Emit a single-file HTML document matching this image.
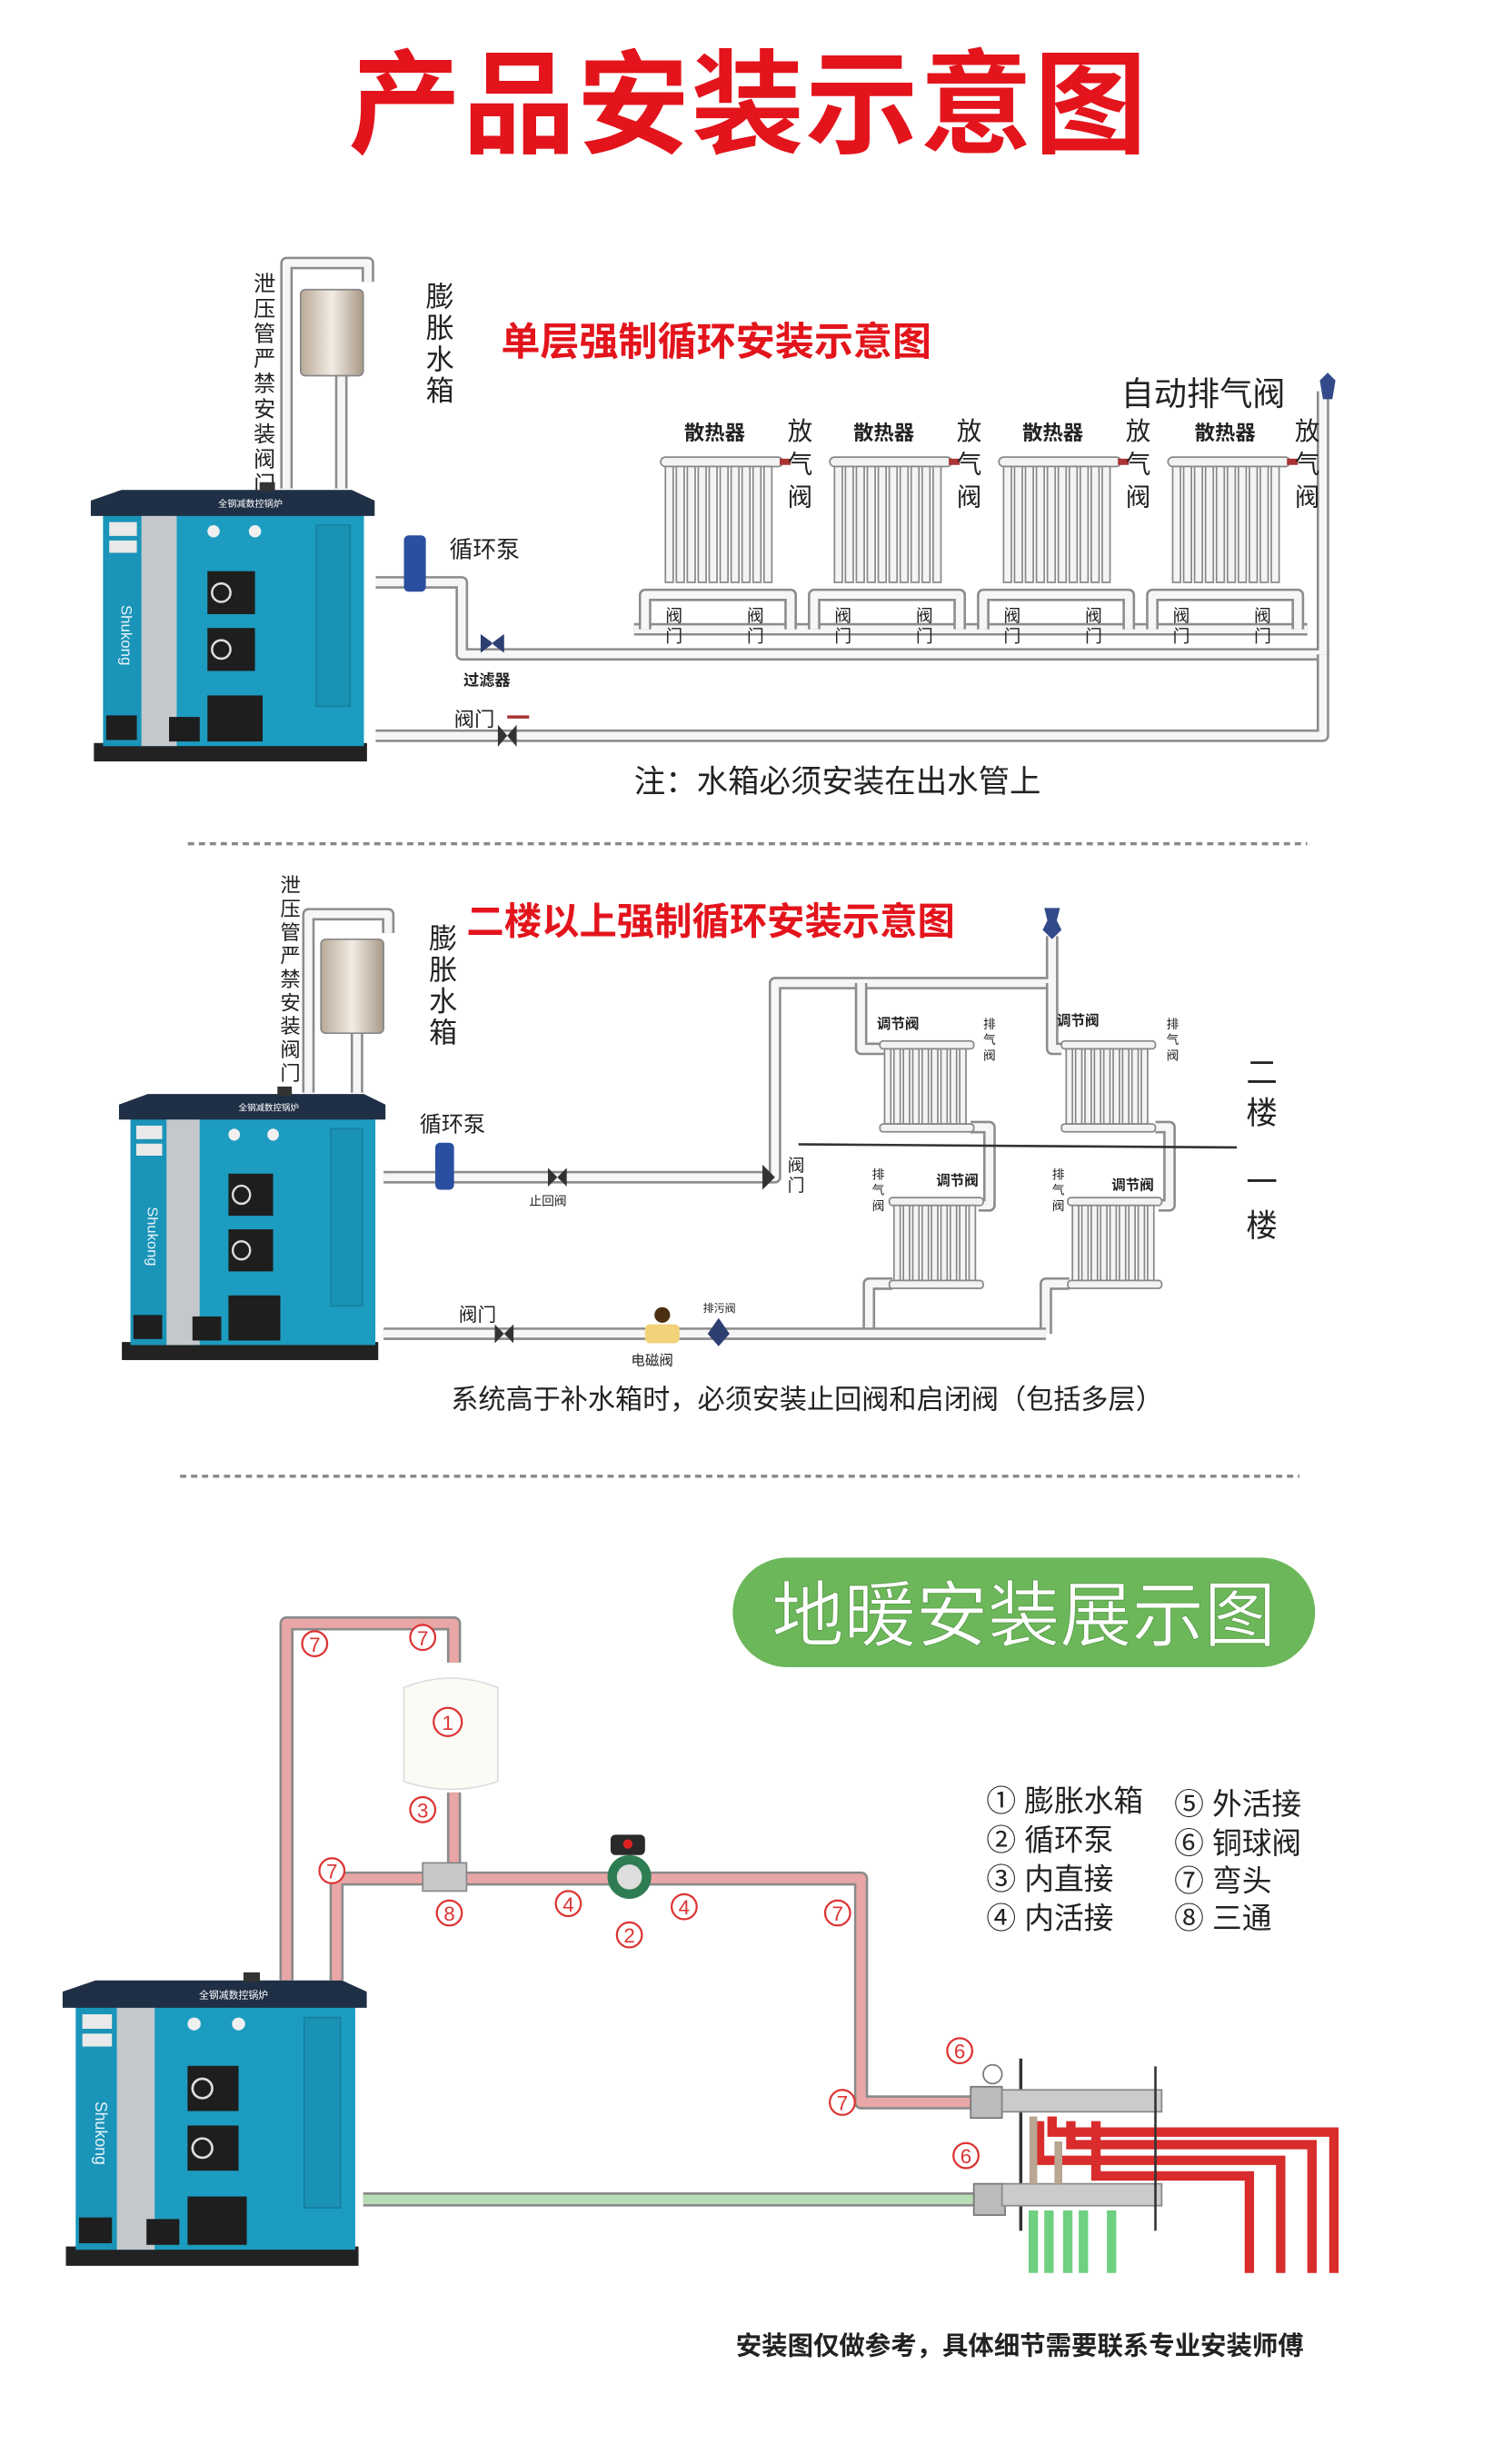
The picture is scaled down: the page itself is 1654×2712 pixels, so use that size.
<!DOCTYPE html>
<html><head><meta charset="utf-8">
<style>
html,body{margin:0;padding:0;background:#fff;}
svg{display:block;}
text{font-family:"Liberation Sans","Noto Sans CJK SC",sans-serif;}
.po{fill:none;stroke:#8c8c8c;stroke-width:8;stroke-linejoin:round;}
.pi{fill:none;stroke:#f6f6f6;stroke-width:5;stroke-linejoin:round;}
.ro{fill:none;stroke:#8a8a8a;stroke-width:9;stroke-linejoin:round;}
.ri{fill:none;stroke:#e9a6a6;stroke-width:6;stroke-linejoin:round;}
.c{fill:#fff;stroke:#d33;stroke-width:1.3;}
.cn{fill:#d33;font-size:13px;text-anchor:middle;}
.lg{font-size:19px;fill:#222;}
</style></head><body>
<svg width="1654" height="2712" viewBox="0 0 960 1574" preserveAspectRatio="none" xmlns="http://www.w3.org/2000/svg">
<defs>
<linearGradient id="tk" x1="0" x2="1"><stop offset="0" stop-color="#b9aa98"/><stop offset="0.5" stop-color="#f2ece4"/><stop offset="1" stop-color="#a89886"/></linearGradient>
<g id="boiler">
  <rect x="2" y="168" width="178" height="12" fill="#222"/>
  <rect x="8" y="16" width="170" height="154" fill="#1c9cc0"/>
  <rect x="8" y="16" width="25" height="154" fill="#1a94b8"/>
  <rect x="33" y="18" width="23" height="152" fill="#c4c8cc"/>
  <rect x="147" y="26" width="22" height="118" fill="#1a92b5" stroke="#16819f" stroke-width="1"/>
  <polygon points="20,3 170,3 185,10 185,20 0,20 0,10" fill="#1f2f45"/>
  <rect x="110" y="-2" width="10" height="6" fill="#333"/>
  <rect x="76" y="56" width="31" height="28" fill="#1e1e1e"/>
  <circle cx="85" cy="70" r="6" fill="none" stroke="#ddd" stroke-width="1.5"/>
  <rect x="76" y="93" width="31" height="28" fill="#1e1e1e"/>
  <circle cx="85" cy="107" r="6" fill="none" stroke="#ddd" stroke-width="1.5"/>
  <rect x="76" y="137" width="36" height="30" fill="#1e1e1e"/>
  <rect x="10" y="150" width="20" height="16" fill="#1e1e1e"/>
  <rect x="51" y="151" width="20" height="16" fill="#1e1e1e"/>
  <circle cx="80" cy="30" r="4" fill="#f0f0f0"/><circle cx="107" cy="30" r="4" fill="#f0f0f0"/>
  <rect x="12" y="24" width="18" height="9" fill="#e9e9e9"/>
  <rect x="12" y="36" width="18" height="8" fill="#e9e9e9"/>
  <text x="20" y="78" font-size="10" fill="#e8f4f8" transform="rotate(90 20 78)">Shukong</text>
  <text x="83" y="14" font-size="6" fill="#fff">全钢减数控锅炉</text>
</g>
<g id="rad">
  <rect x="0" y="0" width="78" height="6" rx="3" fill="#f2f2f2" stroke="#888"/>
  <g stroke="#888" stroke-width="1" fill="#f4f4f4">
    <rect x="3" y="6" width="5" height="74"/><rect x="10" y="6" width="5" height="74"/><rect x="17" y="6" width="5" height="74"/>
    <rect x="24" y="6" width="5" height="74"/><rect x="31" y="6" width="5" height="74"/><rect x="38" y="6" width="5" height="74"/>
    <rect x="45" y="6" width="5" height="74"/><rect x="52" y="6" width="5" height="74"/><rect x="59" y="6" width="5" height="74"/>
    <rect x="66" y="6" width="5" height="74"/>
  </g>
  <rect x="76" y="1" width="7" height="4" fill="#a33"/>
</g>
<g id="rad2">
  <rect x="0" y="0" width="60" height="5" rx="2" fill="#f2f2f2" stroke="#888"/>
  <g stroke="#888" stroke-width="1" fill="#f4f4f4">
    <rect x="3" y="5" width="4" height="48"/><rect x="9" y="5" width="4" height="48"/><rect x="15" y="5" width="4" height="48"/>
    <rect x="21" y="5" width="4" height="48"/><rect x="27" y="5" width="4" height="48"/><rect x="33" y="5" width="4" height="48"/>
    <rect x="39" y="5" width="4" height="48"/><rect x="45" y="5" width="4" height="48"/><rect x="51" y="5" width="4" height="48"/>
  </g>
  <rect x="0" y="53" width="60" height="5" rx="2" fill="#f2f2f2" stroke="#888"/>
</g>
</defs>

<text x="478" y="92" font-size="72" font-weight="bold" fill="#e3141c" text-anchor="middle" letter-spacing="1">产品安装示意图</text>

<!-- SECTION 1 -->
<path class="po" d="M183 312 V168 H235 V180"/><path class="pi" d="M183 312 V168 H235 V180"/>
<path class="po" d="M218 240 V312"/><path class="pi" d="M218 240 V312"/>
<rect x="192" y="185" width="40" height="55" rx="3" fill="url(#tk)" stroke="#888"/>
<text font-size="14" fill="#222"><tspan x="162" y="186">泄</tspan><tspan x="162" y="202">压</tspan><tspan x="162" y="218">管</tspan><tspan x="162" y="234">严</tspan><tspan x="162" y="250">禁</tspan><tspan x="162" y="266">安</tspan><tspan x="162" y="282">装</tspan><tspan x="162" y="298">阀</tspan><tspan x="162" y="314">门</tspan></text>
<text font-size="18" fill="#222"><tspan x="272" y="196">膨</tspan><tspan x="272" y="216">胀</tspan><tspan x="272" y="236">水</tspan><tspan x="272" y="256">箱</tspan></text>
<text x="320" y="227" font-size="25" font-weight="bold" fill="#e3141c">单层强制循环安装示意图</text>
<text x="716" y="259" font-size="21" fill="#222">自动排气阀</text>
<path class="po" d="M240 372 H295 V418 H845 V250"/><path class="pi" d="M240 372 H295 V418 H845 V250"/>
<path class="po" d="M240 470 H845 V418"/><path class="pi" d="M240 470 H845 V418"/>
<path class="po" d="M405 402 H835"/><path class="pi" d="M405 402 H835"/>
<path d="M848 238 l5 5 -2 12 h-6 l-2 -12z" fill="#334a8a"/>
<rect x="258" y="342" width="14" height="36" rx="3" fill="#2b4fa0"/>
<text x="287" y="356" font-size="15" fill="#222">循环泵</text>
<path d="M307 405 l8 6 -8 6z M322 405 l-8 6 8 6z" fill="#2c3f70"/>
<text x="296" y="438" font-size="10" font-weight="bold" fill="#222">过滤器</text>
<text x="290" y="464" font-size="13" fill="#222">阀门</text>
<path d="M318 463 l6 7 -6 7z M330 463 l-6 7 6 7z" fill="#333"/>
<line x1="324" y1="458" x2="338" y2="458" stroke="#a33" stroke-width="2"/>
<use href="#rad" x="422" y="292"/><use href="#rad" x="530" y="292"/><use href="#rad" x="638" y="292"/><use href="#rad" x="746" y="292"/>
<path class="po" d="M412 402 V380 H505 V402 M520 402 V380 H613 V402 M628 402 V380 H721 V402 M736 402 V380 H829 V402"/>
<path class="pi" d="M412 402 V380 H505 V402 M520 402 V380 H613 V402 M628 402 V380 H721 V402 M736 402 V380 H829 V402"/>
<g font-size="11" fill="#222">
<text x="425" y="397">阀</text><text x="425" y="410">门</text><text x="477" y="397">阀</text><text x="477" y="410">门</text>
<text x="533" y="397">阀</text><text x="533" y="410">门</text><text x="585" y="397">阀</text><text x="585" y="410">门</text>
<text x="641" y="397">阀</text><text x="641" y="410">门</text><text x="693" y="397">阀</text><text x="693" y="410">门</text>
<text x="749" y="397">阀</text><text x="749" y="410">门</text><text x="801" y="397">阀</text><text x="801" y="410">门</text>
</g>
<g fill="#222" font-size="13" font-weight="bold">
<text x="437" y="281">散热器</text><text x="545" y="281">散热器</text><text x="653" y="281">散热器</text><text x="763" y="281">散热器</text>
</g>
<g fill="#222" font-size="16">
<text x="503" y="281">放</text><text x="503" y="302">气</text><text x="503" y="323">阀</text>
<text x="611" y="281">放</text><text x="611" y="302">气</text><text x="611" y="323">阀</text>
<text x="719" y="281">放</text><text x="719" y="302">气</text><text x="719" y="323">阀</text>
<text x="827" y="281">放</text><text x="827" y="302">气</text><text x="827" y="323">阀</text>
</g>
<use href="#boiler" transform="translate(58 310) scale(0.98)"/>
<text x="405" y="506" font-size="20" fill="#222">注：水箱必须安装在出水管上</text>
<line x1="120" y1="539" x2="835" y2="539" stroke="#888" stroke-width="2" stroke-dasharray="4 3"/>

<!-- SECTION 2 -->
<path class="po" d="M197 698 V584 H248 V596"/><path class="pi" d="M197 698 V584 H248 V596"/>
<path class="po" d="M228 660 V698"/><path class="pi" d="M228 660 V698"/>
<rect x="205" y="600" width="40" height="60" rx="3" fill="url(#tk)" stroke="#888"/>
<text font-size="13" fill="#222"><tspan x="179" y="570">泄</tspan><tspan x="179" y="585">压</tspan><tspan x="179" y="600">管</tspan><tspan x="179" y="615">严</tspan><tspan x="179" y="630">禁</tspan><tspan x="179" y="645">安</tspan><tspan x="179" y="660">装</tspan><tspan x="179" y="675">阀</tspan><tspan x="179" y="690">门</tspan></text>
<text font-size="18" fill="#222"><tspan x="274" y="606">膨</tspan><tspan x="274" y="626">胀</tspan><tspan x="274" y="646">水</tspan><tspan x="274" y="666">箱</tspan></text>
<text x="298" y="597" font-size="24" font-weight="bold" fill="#e3141c">二楼以上强制循环安装示意图</text>
<path class="po" d="M245 752 H495 V628 H672 V598"/><path class="pi" d="M245 752 H495 V628 H672 V598"/>
<path d="M667 580 h10 l-2 8 3 6 -6 6 -6 -6 3 -6z" fill="#334a8a"/>
<path class="po" d="M550 628 V670 H565 M672 628 V670 H678"/><path class="pi" d="M550 628 V670 H565 M672 628 V670 H678"/>
<path class="po" d="M620 720 H632 V770 H625 M738 720 H747 V770 H740"/><path class="pi" d="M620 720 H632 V770 H625 M738 720 H747 V770 H740"/>
<path class="po" d="M570 820 H555 V852 M683 820 H668 V852"/><path class="pi" d="M570 820 H555 V852 M683 820 H668 V852"/>
<path class="po" d="M245 852 H668"/><path class="pi" d="M245 852 H668"/>
<use href="#rad2" x="562" y="665"/><use href="#rad2" x="678" y="665"/>
<use href="#rad2" x="568" y="765"/><use href="#rad2" x="682" y="765"/>
<line x1="510" y1="731" x2="790" y2="733" stroke="#333" stroke-width="1.5"/>
<g font-size="9" font-weight="bold" fill="#222">
<text x="560" y="657">调节阀</text><text x="675" y="655">调节阀</text>
<text x="598" y="757">调节阀</text><text x="710" y="760">调节阀</text>
</g>
<g font-size="8" fill="#222">
<text x="628" y="657">排</text><text x="628" y="667">气</text><text x="628" y="677">阀</text>
<text x="745" y="657">排</text><text x="745" y="667">气</text><text x="745" y="677">阀</text>
<text x="557" y="753">排</text><text x="557" y="763">气</text><text x="557" y="773">阀</text>
<text x="672" y="753">排</text><text x="672" y="763">气</text><text x="672" y="773">阀</text>
</g>
<text font-size="20" fill="#222"><tspan x="796" y="692">二</tspan><tspan x="796" y="718">楼</tspan><tspan x="796" y="762">一</tspan><tspan x="796" y="790">楼</tspan></text>
<rect x="278" y="730" width="12" height="30" rx="3" fill="#2b4fa0"/>
<text x="268" y="723" font-size="14" fill="#222">循环泵</text>
<path d="M350 746 l6 6 -6 6z M362 746 l-6 6 6 6z" fill="#333"/>
<text x="338" y="770" font-size="8" fill="#222">止回阀</text>
<path d="M487 744 l8 8 -8 8z" fill="#333"/>
<text x="503" y="748" font-size="11" fill="#222">阀</text><text x="503" y="761" font-size="11" fill="#222">门</text>
<text x="293" y="844" font-size="12" fill="#222">阀门</text>
<path d="M316 846 l6 6 -6 6z M328 846 l-6 6 6 6z" fill="#333"/>
<rect x="412" y="846" width="22" height="12" rx="3" fill="#f2d27a"/><circle cx="423" cy="840" r="5" fill="#4a3010"/>
<text x="403" y="872" font-size="9" fill="#222">电磁阀</text>
<path d="M452 852 l7 -10 7 10 -7 8z" fill="#2c3f70"/>
<text x="449" y="838" font-size="7" fill="#222">排污阀</text>
<use href="#boiler" transform="translate(76 696) scale(0.92 0.96)"/>
<text x="288" y="900" font-size="17.5" fill="#222">系统高于补水箱时，必须安装止回阀和启闭阀（包括多层）</text>
<line x1="115" y1="943" x2="830" y2="943" stroke="#888" stroke-width="2" stroke-dasharray="4 3"/>

<!-- SECTION 3 -->
<rect x="468" y="995" width="372" height="70" rx="35" fill="#6cb75a"/>
<text x="654" y="1048" font-size="46" fill="#fff" text-anchor="middle" stroke="#5a9c4a" stroke-width="0.5">地暖安装展示图</text>
<path class="ro" d="M183 1265 V1037 H290 V1062"/><path class="ri" d="M183 1265 V1037 H290 V1062"/>
<path class="ro" d="M215 1265 V1200 H550 V1343 H620"/><path class="ri" d="M215 1265 V1200 H550 V1343 H620"/>
<path class="ro" d="M290 1145 V1200"/><path class="ri" d="M290 1145 V1200"/>
<path d="M232 1405 H630" stroke="#8a8a8a" stroke-width="9" fill="none"/><path d="M232 1405 H630" stroke="#b8dcb4" stroke-width="6" fill="none"/>
<path d="M258 1078 q30 -12 60 0 v60 q-30 10 -60 0z" fill="#fbfbf6" stroke="#ddd"/>
<rect x="270" y="1190" width="28" height="18" fill="#c8c8c8" stroke="#888"/>
<circle cx="402" cy="1199" r="14" fill="#2e7d52"/><circle cx="402" cy="1199" r="8" fill="#ddd"/>
<rect x="390" y="1172" width="22" height="13" rx="3" fill="#2a2a2a"/><circle cx="401" cy="1178" r="3" fill="#d22"/>
<rect x="620" y="1333" width="20" height="20" fill="#bbb" stroke="#777"/>
<rect x="622" y="1395" width="20" height="20" fill="#bbb" stroke="#777"/>
<line x1="652" y1="1315" x2="652" y2="1425" stroke="#333" stroke-width="2"/>
<rect x="640" y="1335" width="102" height="14" fill="#c9cbcc" stroke="#888"/>
<rect x="640" y="1395" width="102" height="14" fill="#c9cbcc" stroke="#888"/>
<circle cx="634" cy="1325" r="6" fill="#fff" stroke="#777"/>
<g fill="none" stroke="#d92c2c" stroke-width="6">
<path d="M672 1352 V1362 H852 V1452"/><path d="M684 1355 V1370 H838 V1452"/>
<path d="M664 1355 V1380 H818 V1452"/><path d="M700 1355 V1390 H798 V1452"/>
</g>
<path d="M660 1352 V1395 M676 1368 V1395" stroke="#b9a693" stroke-width="5"/>
<g stroke="#6fd082" stroke-width="6">
<line x1="660" y1="1412" x2="660" y2="1452"/><line x1="670" y1="1412" x2="670" y2="1452"/>
<line x1="682" y1="1412" x2="682" y2="1452"/><line x1="692" y1="1412" x2="692" y2="1452"/>
<line x1="710" y1="1412" x2="710" y2="1452"/>
</g>
<line x1="738" y1="1320" x2="738" y2="1425" stroke="#333" stroke-width="1.5"/>
<g>
<circle class="c" cx="201" cy="1050" r="8"/><text class="cn" x="201" y="1055">7</text>
<circle class="c" cx="270" cy="1046" r="8"/><text class="cn" x="270" y="1051">7</text>
<circle class="c" cx="286" cy="1100" r="9"/><text class="cn" x="286" y="1105">1</text>
<circle class="c" cx="270" cy="1156" r="8"/><text class="cn" x="270" y="1161">3</text>
<circle class="c" cx="212" cy="1195" r="8"/><text class="cn" x="212" y="1200">7</text>
<circle class="c" cx="287" cy="1222" r="8"/><text class="cn" x="287" y="1227">8</text>
<circle class="c" cx="363" cy="1216" r="8"/><text class="cn" x="363" y="1221">4</text>
<circle class="c" cx="437" cy="1218" r="8"/><text class="cn" x="437" y="1223">4</text>
<circle class="c" cx="402" cy="1236" r="8"/><text class="cn" x="402" y="1241">2</text>
<circle class="c" cx="535" cy="1222" r="8"/><text class="cn" x="535" y="1227">7</text>
<circle class="c" cx="613" cy="1310" r="8"/><text class="cn" x="613" y="1315">6</text>
<circle class="c" cx="538" cy="1343" r="8"/><text class="cn" x="538" y="1348">7</text>
<circle class="c" cx="617" cy="1377" r="8"/><text class="cn" x="617" y="1382">6</text>
</g>
<g class="lg">
<text x="630" y="1157">① 膨胀水箱</text><text x="750" y="1159">⑤ 外活接</text>
<text x="630" y="1182">② 循环泵</text><text x="750" y="1184">⑥ 铜球阀</text>
<text x="630" y="1207">③ 内直接</text><text x="750" y="1208">⑦ 弯头</text>
<text x="630" y="1232">④ 内活接</text><text x="750" y="1232">⑧ 三通</text>
</g>
<use href="#boiler" transform="translate(40 1262) scale(1.05 1.03)"/>
<text x="470" y="1504" font-size="16.5" font-weight="bold" fill="#222">安装图仅做参考，具体细节需要联系专业安装师傅</text>
</svg>
</body></html>
